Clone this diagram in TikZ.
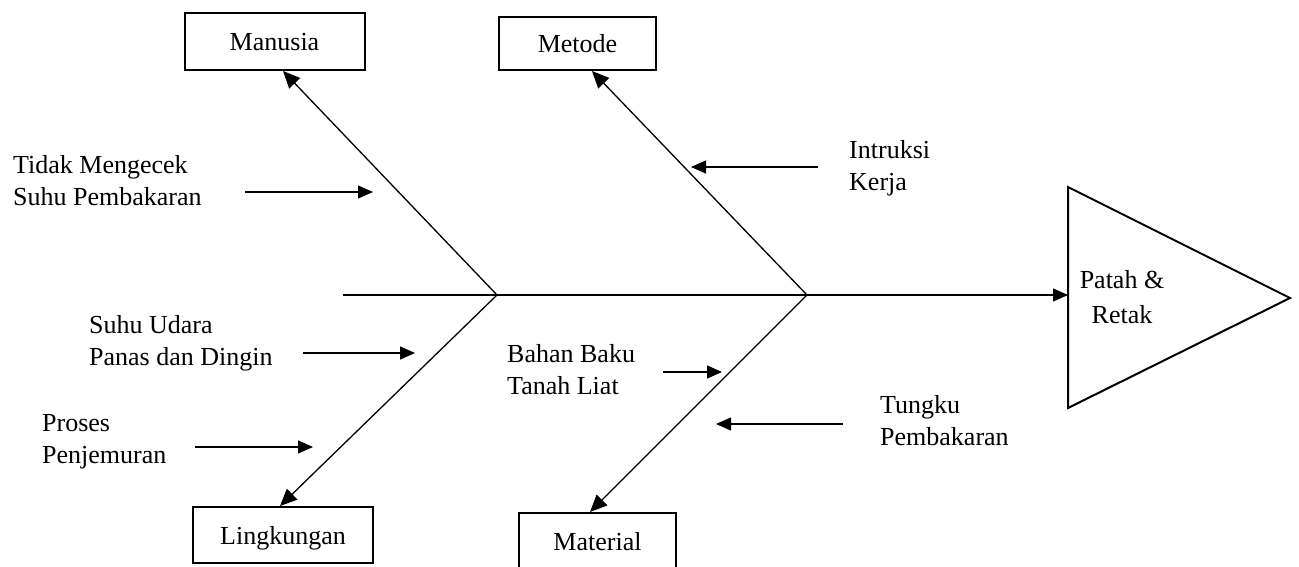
\documentclass[tikz,border=0pt]{standalone}
\usepackage{fontspec}
\setmainfont{Liberation Serif}
\usetikzlibrary{arrows.meta}
\begin{document}
\begin{tikzpicture}[x=1pt,y=-1pt,
  lbl/.style={font=\fontsize{26}{32}\selectfont, inner sep=0pt, align=left, anchor=base west},
  cbox/.style={draw, line width=2pt, font=\fontsize{26}{32}\selectfont, inner sep=0pt, text height=18pt, text depth=0pt},
  ln/.style={line width=1.3pt},
  arr/.style={ln, -{Triangle[length=15pt,width=13pt]}},
  bigarr/.style={ln, -{Triangle[length=17pt,width=15pt]}}]
\useasboundingbox (0,0) rectangle (1299,567);
\clip (0,0) rectangle (1299,567);
% boxes
\node[cbox, minimum width=180pt, minimum height=57pt] (man) at (274.5,41.5) {Manusia};
\node[cbox, minimum width=157pt, minimum height=53pt] (met) at (577.5,43.5) {Metode};
\node[cbox, minimum width=180pt, minimum height=56pt] (lin) at (283,535) {Lingkungan};
\node[cbox, minimum width=157pt, minimum height=57pt] (mat) at (597.5,541.5) {Material};
% effect triangle
\coordinate (ta) at (1068,187);
\coordinate (tb) at (1290,298);
\coordinate (tc) at (1068,408);
\draw[line width=2pt] (ta) -- (tb) -- (tc) -- cycle;
\node[font=\fontsize{26}{35}\selectfont, inner sep=0pt, align=center, anchor=base] (eff) at (1122,323) {Patah \&\\Retak};
% spine
\coordinate (s) at (343,295);
\coordinate (j1) at (497,295);
\coordinate (j2) at (807,295);
\coordinate (head) at (1068,295);
\draw[ln] (s) -- (j1) -- (j2);
\draw[arr] (j2) -- (head);
% branches
\draw[bigarr] (j1) -- ([xshift=8.5pt]man.south);
\draw[bigarr] (j2) -- ([xshift=14.5pt]met.south);
\draw[bigarr] (j1) -- ([xshift=-3pt]lin.north);
\draw[bigarr] (j2) -- ([xshift=-7.5pt]mat.north);
% cause arrows
\coordinate (a1s) at (245,192); \coordinate (a1e) at (373,192);
\coordinate (a2s) at (818,167); \coordinate (a2e) at (691,167);
\coordinate (a3s) at (303,353); \coordinate (a3e) at (415,353);
\coordinate (a4s) at (663,372); \coordinate (a4e) at (722,372);
\coordinate (a5s) at (843,424); \coordinate (a5e) at (716,424);
\coordinate (a6s) at (195,447); \coordinate (a6e) at (313,447);
\draw[arr] (a1s) -- (a1e);
\draw[arr] (a2s) -- (a2e);
\draw[arr] (a3s) -- (a3e);
\draw[arr] (a4s) -- (a4e);
\draw[arr] (a5s) -- (a5e);
\draw[arr] (a6s) -- (a6e);
% labels
\node[lbl] (t1) at (13,205) {Tidak Mengecek\\Suhu Pembakaran};
\node[lbl] (t2) at (849,190) {Intruksi\\Kerja};
\node[lbl] (t3) at (89,365) {Suhu Udara\\Panas dan Dingin};
\node[lbl] (t4) at (507,394) {Bahan Baku\\Tanah Liat};
\node[lbl] (t5) at (880,445) {Tungku\\Pembakaran};
\node[lbl] (t6) at (42,463) {Proses\\Penjemuran};
\end{tikzpicture}
\end{document}
